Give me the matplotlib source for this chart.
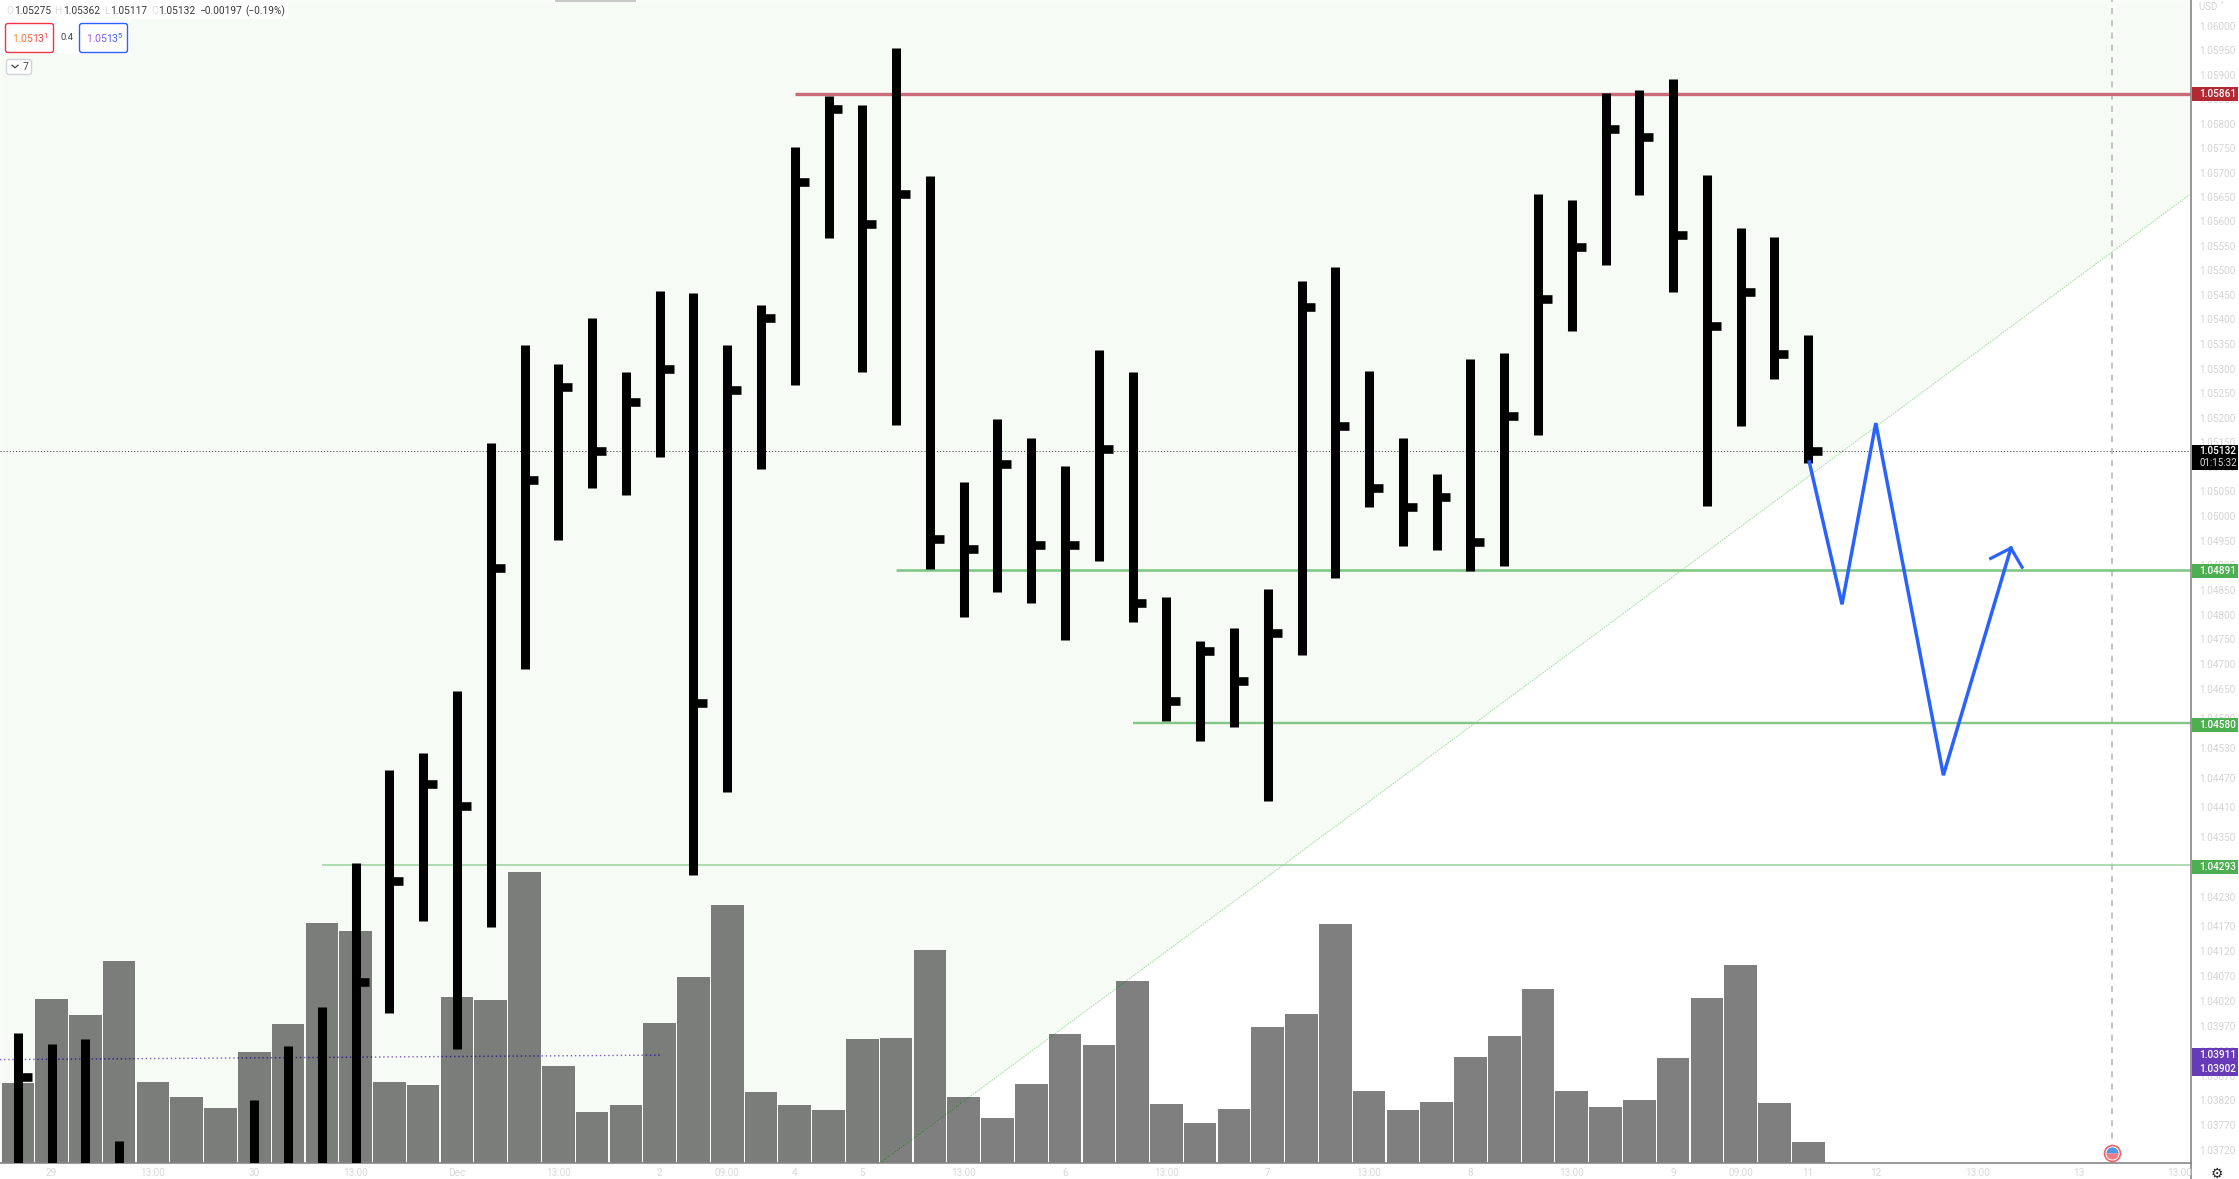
import matplotlib
matplotlib.use("Agg")
import matplotlib.pyplot as plt
from matplotlib.lines import Line2D
from matplotlib.patches import Rectangle, FancyBboxPatch
from matplotlib.path import Path
from matplotlib.ticker import NullLocator
from matplotlib.transforms import Affine2D

plt.rcParams['font.family'] = ['Roboto', 'DejaVu Sans']

# ---------- data ----------
bar_index = list(range(54))
highs = [1.03955, 1.03934, 1.03943, 1.03739, 1.0368, 1.0368, 1.0368, 1.03820, 1.03930, 1.04007,
         1.04297, 1.04485, 1.04520, 1.04646, 1.05148, 1.05348, 1.05310, 1.05403, 1.05293, 1.05459,
         1.05454, 1.05348, 1.05429, 1.05753, 1.05856, 1.05838, 1.05955, 1.05692, 1.05070, 1.05197,
         1.05159, 1.05102, 1.05337, 1.05294, 1.04835, 1.04747, 1.04772, 1.04851, 1.05479, 1.05507,
         1.05296, 1.05159, 1.05085, 1.05319, 1.05331, 1.05656, 1.05644, 1.05863, 1.05869, 1.05891,
         1.05694, 1.05587, 1.05569, 1.05369]
lows = [1.0365, 1.0365, 1.0365, 1.0365, 1.0365, 1.0365, 1.0365, 1.0365, 1.0365, 1.0365,
        1.0365, 1.03995, 1.04181, 1.03923, 1.04168, 1.04689, 1.04951, 1.05058, 1.05042, 1.05120,
        1.04274, 1.04441, 1.05095, 1.05266, 1.05566, 1.05294, 1.05186, 1.04892, 1.04795, 1.04846,
        1.04824, 1.04748, 1.04908, 1.04785, 1.04585, 1.04544, 1.04572, 1.04423, 1.04718, 1.04874,
        1.05019, 1.04940, 1.04931, 1.04889, 1.04899, 1.05165, 1.05376, 1.05512, 1.05654, 1.05456,
        1.05020, 1.05183, 1.05279, 1.05108]
closes = [1.03868, 1.0367, 1.0367, 1.0366, 1.0366, 1.0366, 1.0366, 1.0367, 1.0367, 1.0367,
          1.04058, 1.04262, 1.04457, 1.04413, 1.04894, 1.05074, 1.05262, 1.05133, 1.05231, 1.05300,
          1.04622, 1.05256, 1.05403, 1.05681, 1.05830, 1.05594, 1.05656, 1.04954, 1.04934, 1.05105,
          1.04941, 1.04941, 1.05137, 1.04823, 1.04626, 1.04727, 1.04665, 1.04762, 1.05426, 1.05184,
          1.05058, 1.05019, 1.05038, 1.04947, 1.05203, 1.05442, 1.05547, 1.05790, 1.05772, 1.05573,
          1.05387, 1.05457, 1.05329, 1.05132]
volumes = [80, 164, 148, 202, 81, 66, 55, 111, 139, 240, 232, 81, 78, 166, 163, 291, 97, 51, 58, 140,
           186, 258, 71, 58, 53, 124, 125, 213, 66, 45, 79, 129, 118, 182, 59, 40, 54, 136, 149, 239,
           72, 53, 61, 106, 127, 174, 72, 56, 63, 105, 165, 198, 60, 21]
vol_prev_index = [-1]
vol_prev = [52]

level_prices = [1.05861, 1.04891, 1.04580, 1.04293]
level_starts = [23, 26, 33, 9]
level_colors = ['#cb6a79', '#82c785', '#82c785', '#9ad29c']
level_widths = [2.4, 1.9, 1.7, 1.1]

last_price = 1.05132
purple_x = [-0.53, 19]
purple_p = [1.03902, 1.03911]
trend_x = [25.52, 64.27]
trend_p = [1.03694, 1.05654]
path_x = [53.03, 54, 55, 57, 59]
path_p = [1.05110, 1.04821, 1.05189, 1.04475, 1.04935]
wing_x = [58.4, 59, 59.33]
wing_p = [1.04914, 1.04935, 1.04896]
event_index = 62

price_ticks = [1.06, 1.0595, 1.059, 1.0585, 1.058, 1.0575, 1.057, 1.0565, 1.056, 1.0555, 1.055, 1.0545,
               1.054, 1.0535, 1.053, 1.0525, 1.052, 1.0515, 1.051, 1.0505, 1.05, 1.0495, 1.049, 1.0485,
               1.048, 1.0475, 1.047, 1.0465, 1.0459, 1.0453, 1.0447, 1.0441, 1.0435, 1.0429, 1.0423,
               1.0417, 1.0412, 1.0407, 1.0402, 1.0397, 1.0392, 1.0387, 1.0382, 1.0377, 1.0372]
time_ticks = [1, 4, 7, 10, 13, 16, 19, 21, 23, 25, 28, 31, 34, 37, 40, 43, 46, 49, 51, 53, 55, 58, 61, 64]
time_labels = ['29', '13:00', '30', '13:00', 'Dec', '13:00', '2', '09:00', '4', '5', '13:00', '6',
               '13:00', '7', '13:00', '8', '13:00', '9', '09:00', '11', '12', '13:00', '13', '13:00']

# ---------- layout ----------
W, H = 2239, 1179
PLOT_R, PLOT_B = 2191, 1163
fig = plt.figure(figsize=(W / 100, H / 100), dpi=100, facecolor='white')
pos = [0, (H - PLOT_B) / H, PLOT_R / W, PLOT_B / H]
XLIM = (-0.527, 64.33)
YLIM = (1.036944, 1.060533)

def price_axes(z):
    a = fig.add_axes(pos, zorder=z)
    a.set_yscale('log')
    a.set_xlim(*XLIM)
    a.set_ylim(*YLIM)
    a.patch.set_visible(False)
    a.yaxis.set_minor_locator(NullLocator())
    return a

ax_bg = price_axes(0)
ax_bg.axis('off')
ax_vol = fig.add_axes(pos, zorder=1)
ax_vol.set_xlim(*XLIM)
ax_vol.set_ylim(0, PLOT_B)
ax_vol.axis('off')
ax = price_axes(2)

# background region above the trend line
fill_x = [XLIM[0]] + trend_x + [XLIM[1]]
fill_low = [YLIM[0], trend_p[0], trend_p[1], trend_p[1]]
ax_bg.fill_between(fill_x, fill_low, YLIM[1], color='#f6fbf5', lw=0)

# volume
ax_vol.bar(vol_prev_index + bar_index, vol_prev + volumes, width=0.965, color='black', alpha=0.5, lw=0)
vol_path = Path.make_compound_path(*[
    Path.unit_rectangle().transformed(Affine2D().scale(0.965, v).translate(i - 0.4825, 0))
    for i, v in zip(vol_prev_index + bar_index, vol_prev + volumes)])

# trend line and purple line, darker where they cross the volume bars
ax.plot(trend_x, trend_p, color='#a4dba7', lw=0.7, ls=(0, (1.5, 1.2)), zorder=2)
dark, = ax.plot(trend_x, trend_p, color='#2b5f30', lw=0.7, ls=(0, (1.5, 1.2)), zorder=2.1)
dark.set_clip_path(vol_path, ax_vol.transData)
ax.plot(purple_x, purple_p, color='#7a5cc8', lw=1.0, ls=(0, (1, 2)), zorder=2)
dark2, = ax.plot(purple_x, purple_p, color='#33266e', lw=1.0, ls=(0, (1, 2)), zorder=2.1)
dark2.set_clip_path(vol_path, ax_vol.transData)

# last price line and event line
ax.axhline(last_price, color='#333333', lw=0.7, ls=(0, (1, 2.2)), zorder=2)
ax.axvline(event_index, color='#b4b4b4', lw=1.1, ls=(0, (4, 4)), zorder=2)

# levels
for p, s, c, w in zip(level_prices, level_starts, level_colors, level_widths):
    ax.plot([s, XLIM[1]], [p, p], color=c, lw=w, solid_capstyle='butt', zorder=2.5)

# price bars
ax.vlines(bar_index, lows, highs, color='black', lw=6.5, capstyle='butt', zorder=3)
ax.hlines(closes, bar_index, [i + 0.41 for i in bar_index], color='black', lw=6.2, capstyle='butt', zorder=3)

# drawn path
ax.plot(path_x, path_p, color='#2962ff', lw=2.5, solid_joinstyle='miter', zorder=4)
ax.plot(wing_x, wing_p, color='#2962ff', lw=2.3, solid_joinstyle='miter', zorder=4)

# event flag
ax.plot([event_index], [1.03715], marker='o', ms=11.5, mfc='white', mec='#f4606c', mew=1.2, zorder=5, clip_on=False)
ax.plot([event_index], [1.03715], marker='o', ms=8.8, fillstyle='top', mfc='#4d96e8', mfcalt='#f27a84',
        mec='none', zorder=5.1)

# axes
for s in ['top', 'left']:
    ax.spines[s].set_visible(False)
for s in ['right', 'bottom']:
    ax.spines[s].set_color('#868686')
    ax.spines[s].set_linewidth(1.2)
ax.yaxis.tick_right()
ax.set_yticks(price_ticks, [f'{t:.5f}' for t in price_ticks])
ax.yaxis.set_minor_locator(NullLocator())
ax.tick_params(axis='y', which='major', length=0, pad=5.8, labelsize=7.2, labelcolor='#d4d4d4')
ax.set_xticks(time_ticks, time_labels)
ax.tick_params(axis='x', length=0, pad=3.6, labelsize=7.2, labelcolor='#d8d8d8')
fig.add_artist(Line2D([PLOT_R / W] * 2, [0, 1 - PLOT_B / H], color='#868686', lw=1.2))

# ---------- pixel helpers for chrome ----------
def ptext(x, y, s, **kw):
    kw.setdefault('va', 'center')
    return fig.text(x / W, 1 - y / H, s, zorder=20, **kw)

def prect(x0, y0, x1, y1, **kw):
    r = Rectangle((x0 / W, 1 - y1 / H), (x1 - x0) / W, (y1 - y0) / H, transform=fig.transFigure, lw=0, zorder=19, **kw)
    fig.add_artist(r)

def pbox(x0, y0, x1, y1, ec, lw=1.0):
    b = FancyBboxPatch((x0, H - y1), x1 - x0, y1 - y0, boxstyle='round,pad=0,rounding_size=2.5',
                       transform=Affine2D().scale(1 / W, 1 / H) + fig.transFigure,
                       fc='white', ec=ec, lw=lw, zorder=19)
    fig.add_artist(b)

# price tags
tags = [(87, 101, '#b22833', ['1.05861'], '#ffffff'),
        (564, 578, '#4caf50', ['1.04891'], '#ffffff'),
        (718, 732, '#4caf50', ['1.04580'], '#ffffff'),
        (860, 874, '#4caf50', ['1.04293'], '#ffffff')]
for y0, y1, c, txt, tc in tags:
    prect(PLOT_R + 1, y0, 2238, y1, color=c)
    ptext(2199, (y0 + y1) / 2, txt[0], color=tc, fontsize=7.2, fontweight='medium')
prect(PLOT_R + 1, 445, 2238, 470, color='#000000')
ptext(2199, 451.5, '1.05132', color='white', fontsize=7.2, fontweight='medium')
ptext(2199, 463, '01:15:32', color='#d8d8d8', fontsize=7)
prect(PLOT_R + 1, 1048, 2238, 1076, color='#673ab7')
ptext(2199, 1055.5, '1.03911', color='white', fontsize=7.2, fontweight='medium')
ptext(2199, 1069, '1.03902', color='white', fontsize=7.2, fontweight='medium')

ptext(2199, 7.5, 'USD ˅', color='#d4d4d4', fontsize=7)
ptext(2217, 1174, '⚙', color='#222222', fontsize=10, ha='center', family=['DejaVu Sans'])

# small toolbar edge at the top of the pane
prect(555, 0, 636, 1.5, color='#c8c8c8')

# header
prect(0, 0, 288, 19, color='#ffffff')
prect(0, 19, 130, 54, color='#ffffff')
head_sz = 7.3
for x, s, c in [(6, 'O', '#dcdcdc'), (14, '1.05275', '#3a3a3a'), (54, 'H', '#dcdcdc'), (63, '1.05362', '#3a3a3a'),
                (104, 'L', '#dcdcdc'), (110, '1.05117', '#3a3a3a'), (151, 'C', '#dcdcdc'), (158, '1.05132', '#3a3a3a'),
                (199, '−0.00197', '#3a3a3a'), (245, '(−0.19%)', '#3a3a3a')]:
    ptext(x, 11, s, color=c, fontsize=head_sz)

pbox(5.5, 23.5, 53.5, 52.5, '#f23645')
pbox(79.5, 23.5, 127.5, 52.5, '#2962ff')
adv = [5.6, 2.6, 5.6, 5.6, 5.6, 5.6]
red_cols = ['#fb8c35', '#fb7f38', '#f9703b', '#f7603e', '#f55041', '#f34244']
blue_cols = ['#b060e8', '#a05cec', '#8a5cf0', '#745ef5', '#5c60fa', '#4461fd']
for x0, cols, sup, supc in [(12.5, red_cols, '1', '#f23645'), (86.5, blue_cols, '5', '#2962ff')]:
    x = x0
    for ch, a, c in zip('1.0513', adv, cols):
        ptext(x, 38.5, ch, color=c, fontsize=7.6)
        x += a
    ptext(x + 0.5, 36.5, sup, color=supc, fontsize=5.6)
ptext(67, 38, '0.4', color='#444444', fontsize=6.8, ha='center')
pbox(6.5, 59.5, 31.5, 74.5, '#d1d4dc')
fig.add_artist(Line2D([12 / W, 15 / W, 18 / W], [1 - 65.2 / H, 1 - 67.8 / H, 1 - 65.2 / H],
                      color='#444444', lw=0.9, zorder=20))
ptext(25, 67, '7', color='#444444', fontsize=7.4, ha='center')

fig.savefig('out.png', dpi=100)
